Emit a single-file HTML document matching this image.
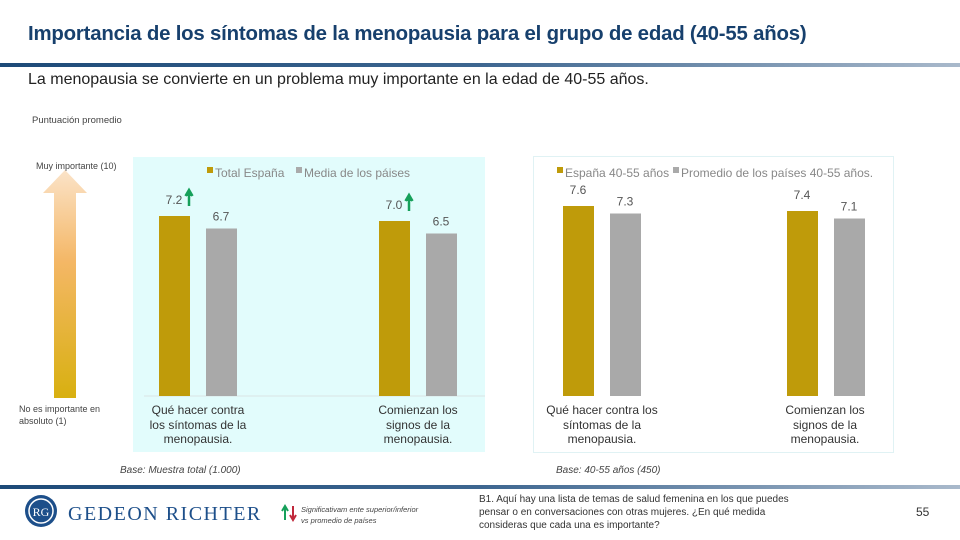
<!DOCTYPE html>
<html><head><meta charset="utf-8"><style>
body{margin:0;width:960px;height:540px;background:#fff;overflow:hidden;font-family:"Liberation Sans",sans-serif;position:relative}
.a{position:absolute}
</style></head><body>
<div class="a" style="left:28px;top:23px;font-size:20.4px;font-weight:bold;color:#17406d;white-space:nowrap;letter-spacing:-0.2px">Importancia de los síntomas de la menopausia para el grupo de edad (40-55 años)</div>
<div class="a" style="left:0;top:63px;width:960px;height:4px;background:linear-gradient(90deg,#1d4a78 0%,#3d6690 50%,#a9b9cb 100%)"></div>
<div class="a" style="left:28px;top:71px;font-size:16px;color:#222;white-space:nowrap">La menopausia se convierte en un problema muy importante en la edad de 40-55 años.</div>
<div class="a" style="left:32px;top:115px;font-size:9.5px;color:#444">Puntuación promedio</div>
<svg class="a" style="left:0;top:0" width="960" height="540">
<defs><linearGradient id="ag" x1="0" y1="0" x2="0" y2="1"><stop offset="0" stop-color="#fbe3c8"/><stop offset="0.4" stop-color="#f4b766"/><stop offset="1" stop-color="#d8b010"/></linearGradient></defs>
<rect x="133" y="157" width="352" height="295" fill="#e2fcfc"/>
<rect x="533.5" y="156.5" width="360" height="296" fill="#fff" stroke="#e0f2f4"/>
<polygon points="54,398 54,193 43,193 65,170 87,193 76,193 76,398" fill="url(#ag)"/>
<text x="36" y="169" font-size="9" fill="#444">Muy importante (10)</text>
<text x="19" y="412" font-size="9" fill="#444">No es importante en</text>
<text x="19" y="424" font-size="9" fill="#444">absoluto (1)</text>
<line x1="144" y1="396" x2="485" y2="396" stroke="#d9e4e4"/>
<g id="bars"></g>
<rect x="207" y="167" width="6" height="6" fill="#bf9b0a"/><text x="215" y="177" font-size="12" fill="#888">Total España</text>
<rect x="296" y="167" width="6" height="6" fill="#aaa"/><text x="304" y="177" font-size="12" fill="#888">Media de los páises</text>
<rect x="557" y="167" width="6" height="6" fill="#bf9b0a"/><text x="565" y="177" font-size="12" fill="#888">España 40-55 años</text>
<rect x="673" y="167" width="6" height="6" fill="#aaa"/><text x="681" y="177" font-size="12" fill="#888">Promedio de los países 40-55 años.</text>
<g font-size="12" fill="#333" text-anchor="middle">
<text x="198" y="414">Qué hacer contra</text><text x="198" y="429">los síntomas de la</text><text x="198" y="443">menopausia.</text>
<text x="418" y="414">Comienzan los</text><text x="418" y="429">signos de la</text><text x="418" y="443">menopausia.</text>
<text x="602" y="414">Qué hacer contra los</text><text x="602" y="429">síntomas de la</text><text x="602" y="443">menopausia.</text>
<text x="825" y="414">Comienzan los</text><text x="825" y="429">signos de la</text><text x="825" y="443">menopausia.</text>
</g>
<text x="120" y="473" font-size="10" font-style="italic" fill="#444">Base: Muestra total (1.000)</text>
<text x="556" y="473" font-size="10" font-style="italic" fill="#444">Base: 40-55 años (450)</text>
<rect x="0" y="485" width="960" height="4" fill="url(#fg)"/>
<defs><linearGradient id="fg"><stop offset="0" stop-color="#1d4a78"/><stop offset="0.5" stop-color="#3d6690"/><stop offset="1" stop-color="#a9b9cb"/></linearGradient></defs>
<g>
<circle cx="41" cy="511" r="16" fill="#1d4f8a"/><circle cx="41" cy="511" r="12" fill="none" stroke="#fff" stroke-width="1.5"/>
<text x="41" y="516" font-size="12" fill="#fff" text-anchor="middle" font-family="Liberation Serif">RG</text>
<text x="68" y="520" font-size="20" fill="#1d4f8a" font-family="Liberation Serif" letter-spacing="1.5">GEDEON RICHTER</text>
</g>
<path d="M285 520 V508 M282 511 L285 506 L288 511" stroke="#16a05a" stroke-width="2" fill="none"/>
<path d="M293 506 V518 M290 515 L293 520 L296 515" stroke="#c0283b" stroke-width="2" fill="none"/>
<text x="301" y="512" font-size="7.5" font-style="italic" fill="#444">Significativam ente superior/inferior</text>
<text x="301" y="523" font-size="7.5" font-style="italic" fill="#444">vs promedio de países</text>
<g font-size="10" fill="#333"><text x="479" y="502">B1. Aquí hay una lista de temas de salud femenina en los que puedes</text><text x="479" y="515">pensar o en conversaciones con otras mujeres. ¿En qué medida</text><text x="479" y="528">consideras que cada una es importante?</text></g>
<text x="916" y="516" font-size="12" fill="#333">55</text>
</svg>
<script>
const categories=["Qué hacer contra los síntomas","Comienzan los signos","Qué hacer contra los síntomas 40-55","Comienzan los signos 40-55"];
const spainValues=[7.2,7.0,7.6,7.4];
const avgValues=[6.7,6.5,7.3,7.1];
const valueLabels=["7.2","7.0","7.6","7.4"];
const avgLabels=["6.7","6.5","7.3","7.1"];
const sigUp=[true,true,false,false];
const baseY=396,scale=25;
const groupX=[159,379,563,787];
const y=v=>baseY-v*scale;
const g=document.getElementById('bars');
const NS="http://www.w3.org/2000/svg";
function mk(t,a){const e=document.createElementNS(NS,t);for(const k in a)e.setAttribute(k,a[k]);g.appendChild(e);return e;}
categories.forEach((c,i)=>{
 const x0=groupX[i],x1=x0+47;
 const b1=mk('rect',{x:x0,y:y(spainValues[i]),width:31,height:spainValues[i]*scale,fill:'#bf9b0a'});
 
 
 const b2=mk('rect',{x:x1,y:y(avgValues[i]),width:31,height:avgValues[i]*scale,fill:'#a9a9a9'});
 
 
 const l1=mk('text',{x:x0+15,y:y(spainValues[i])-12,'font-size':12,fill:'#555','text-anchor':'middle'});l1.textContent=valueLabels[i];
 
 
 const l2=mk('text',{x:x1+15,y:y(avgValues[i])-8,'font-size':12,fill:'#555','text-anchor':'middle'});l2.textContent=avgLabels[i];
 
 
 if(sigUp[i]){const yy=y(spainValues[i])-14;
  const p=mk('path',{d:`M${x0+30} ${yy+4} V${yy-10} M${x0+26.5} ${yy-6} L${x0+30} ${yy-12} L${x0+33.5} ${yy-6}`,stroke:'#16a05a','stroke-width':2.5,fill:'#16a05a'});
  
  }
});
</script>
</body></html>
